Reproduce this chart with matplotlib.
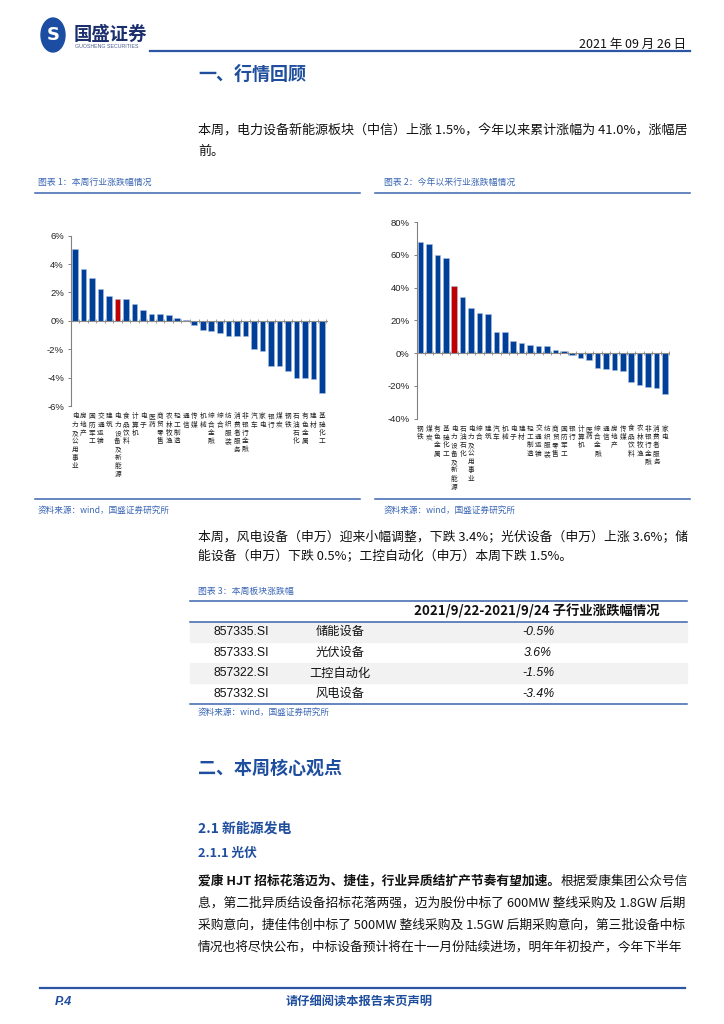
import numpy as np
import matplotlib
matplotlib.use("Agg")
import matplotlib.pyplot as plt
from matplotlib.lines import Line2D
from matplotlib.patches import Rectangle, Circle

plt.rcParams['font.family'] = ['Noto Sans CJK SC', 'DejaVu Sans']

# 本周行业涨跌幅 (%)
week_labels = ['电力及公用事业', '房地产', '国防军工', '交通运输', '建筑', '电力设备及新能源',
               '食品饮料', '计算机', '电子', '医药', '商贸零售', '农林牧渔', '轻工制造', '通信',
               '传媒', '机械', '综合金融', '综合', '纺织服装', '消费者服务', '非银行金融', '汽车',
               '家电', '银行', '煤炭', '钢铁', '石油石化', '有色金属', '建材', '基础化工']
week_values = [5.04, 3.67, 3.04, 2.24, 1.72, 1.55, 1.56, 1.22, 0.75, 0.49, 0.47, 0.42, 0.19, 0.09,
               -0.26, -0.66, -0.73, -0.87, -1.06, -1.06, -1.08, -1.95, -2.12, -3.18, -3.18,
               -3.50, -4.00, -4.05, -4.12, -5.06]

# 今年以来行业涨跌幅 (%)
ytd_labels = ['钢铁', '煤炭', '有色金属', '基础化工', '电力设备及新能源', '石油石化', '电力及公用事业',
              '综合', '建筑', '汽车', '机械', '电子', '建材', '轻工制造', '交通运输', '纺织服装',
              '商贸零售', '国防军工', '银行', '计算机', '医药', '综合金融', '通信', '房地产', '传媒',
              '食品饮料', '农林牧渔', '非银行金融', '消费者服务', '家电']
ytd_values = [67.7, 66.7, 59.8, 57.9, 41.0, 34.6, 27.6, 24.6, 24.2, 13.0, 12.8, 7.3, 6.3, 4.9,
              4.5, 4.1, 2.0, 1.0, -1.4, -3.0, -4.3, -9.1, -10.0, -10.6, -11.0, -17.7, -19.7,
              -20.7, -21.5, -25.2]

highlight = '电力设备及新能源'

# 本周板块涨跌幅
table_codes = ['857335.SI', '857333.SI', '857322.SI', '857332.SI']
table_names = ['储能设备', '光伏设备', '工控自动化', '风电设备']
table_changes = ['-0.5%', '3.6%', '-1.5%', '-3.4%']

W, H = 724, 1024
BLUE = '#003f98'
RED = '#c00000'
HEAD = '#1f4e9f'
CAP = '#3a66b5'
RULE = '#3d65ae'
CJK = ['Noto Sans CJK SC', 'DejaVu Sans']
LAT = ['Liberation Sans', 'Noto Sans CJK SC']

fig = plt.figure(figsize=(W / 100, H / 100), dpi=100)
fig.patch.set_facecolor('white')


def fx(x):
    return x / W


def fy(y):
    return 1 - y / H


def txt(x, y, s, **kw):
    kw.setdefault('va', 'center')
    return fig.text(fx(x), fy(y), s, **kw)


def hline(x0, x1, y, color=RULE, lw=1.1):
    fig.add_artist(Line2D([fx(x0), fx(x1)], [fy(y), fy(y)], transform=fig.transFigure,
                          color=color, lw=lw))


def bar_chart(rect, labels, values, ylim, step, xlim):
    left, top, right, bottom = rect
    ax = fig.add_axes([fx(left), fy(bottom), fx(right - left), (bottom - top) / H])
    ax.patch.set_alpha(0)
    x = np.arange(len(values))
    colors = [RED if l == highlight else BLUE for l in labels]
    ax.bar(x, values, width=0.66, color=colors, edgecolor='#a9bde0', linewidth=0.4, zorder=2)
    ax.axhline(0, color='#8c8c8c', lw=0.8, zorder=3)
    ax.set_xlim(*xlim)
    ax.set_ylim(*ylim)
    ax.set_yticks(np.arange(ylim[0], ylim[1] + step / 2, step))
    ax.set_yticklabels(['%d%%' % v for v in ax.get_yticks()], family=LAT, fontsize=6.8,
                       color='#222222')
    ax.tick_params(axis='y', length=2.5, width=0.7, color='#808080', pad=2.5)
    ax.set_xticks(x)
    ax.set_xticklabels(['\n'.join(l) for l in labels], fontsize=4.8, linespacing=1.05,
                       va='top', color='#222222')
    ax.tick_params(axis='x', length=0, pad=4.5)
    for s in ['top', 'right', 'bottom']:
        ax.spines[s].set_visible(False)
    ax.spines['left'].set_color('#808080')
    ax.spines['left'].set_linewidth(0.8)
    zero = (0 - ylim[0]) / (ylim[1] - ylim[0])
    sec = ax.secondary_xaxis(zero)
    sec.set_xticks(np.arange(-0.5, len(values), 1.0))
    sec.tick_params(length=2.5, width=0.6, color='#8c8c8c', direction='inout', labelbottom=False,
                    labeltop=False)
    sec.spines['bottom'].set_visible(False)
    sec.spines['top'].set_visible(False)
    return ax


# header
fig.add_artist(Circle((fx(53), fy(35)), 12 / W, transform=fig.transFigure,
                      color='#1b4ea3', zorder=3))
txt(53, 35.5, 'S', fontsize=13, color='white', fontweight='bold', ha='center',
    family=['DejaVu Sans'], zorder=4)
txt(74, 34, '国盛证券', fontsize=13.2, fontweight='bold', color='#1b2f6e')
txt(75, 47, 'GUOSHENG SECURITIES', fontsize=3.8, color='#4b5f8f', family=LAT)
txt(686, 44, '2021 年 09 月 26 日', fontsize=9, ha='right', color='#111111')
hline(150, 690, 51, color='#2c55a2', lw=1.6)

txt(198, 74, '一、行情回顾', fontsize=13, fontweight='bold', color=HEAD)
txt(198, 131, '本周，电力设备新能源板块（中信）上涨 1.5%，今年以来累计涨幅为 41.0%，涨幅居',
    fontsize=9.4, color='#111111')
txt(198, 151, '前。', fontsize=9.4, color='#111111')

# chart captions
txt(38, 182, '图表 1：本周行业涨跌幅情况', fontsize=6.4, color=CAP, style='italic')
txt(384, 182, '图表 2：今年以来行业涨跌幅情况', fontsize=6.4, color=CAP, style='italic')
hline(35, 360, 193)
hline(375, 690, 193)

bar_chart((71, 235.7, 328, 406), week_labels, week_values, (-6, 6), 2, (-0.47, 29.7))
bar_chart((416.7, 222.3, 670, 418.5), ytd_labels, ytd_values, (-40, 80), 20, (-0.45, 29.6))

hline(35, 360, 499)
hline(375, 690, 499)
txt(38, 510, '资料来源：wind，国盛证券研究所', fontsize=6.2, color=CAP, style='italic')
txt(384, 510, '资料来源：wind，国盛证券研究所', fontsize=6.2, color=CAP, style='italic')

txt(198, 537, '本周，风电设备（申万）迎来小幅调整，下跌 3.4%；光伏设备（申万）上涨 3.6%；储',
    fontsize=9.25, color='#111111')
txt(198, 557, '能设备（申万）下跌 0.5%；工控自动化（申万）本周下跌 1.5%。', fontsize=9.25,
    color='#111111')

# table
txt(198, 591, '图表 3：本周板块涨跌幅', fontsize=6.4, color=CAP, style='italic')
row_top = [621.5, 642.2, 662.8, 683.4]
row_h = 20.6
for i, y0 in enumerate(row_top):
    if i % 2 == 0:
        fig.add_artist(Rectangle((fx(190), fy(y0 + row_h)), fx(687 - 190), row_h / H,
                                 transform=fig.transFigure, color='#f2f2f2', zorder=0))
    yc = y0 + row_h / 2
    txt(241, yc, table_codes[i], fontsize=8.8, ha='center', family=LAT, color='#111111')
    txt(340, yc, table_names[i], fontsize=8.8, ha='center', color='#111111')
    txt(538, yc, table_changes[i], fontsize=8.8, ha='center', family=LAT, style='italic',
        color='#111111')
hline(190, 687, 600.5, lw=1.1)
txt(537, 611, '2021/9/22-2021/9/24 子行业涨跌幅情况', fontsize=9.6, ha='center',
    fontweight='bold', color='#111111')
hline(190, 687, 621.5, lw=1.1)
hline(190, 687, 704, lw=1.1)
txt(198, 712, '资料来源：wind，国盛证券研究所', fontsize=6.2, color=CAP, style='italic')

# section 2
txt(198, 768, '二、本周核心观点', fontsize=13, fontweight='bold', color=HEAD)
txt(198, 829, '2.1 新能源发电', fontsize=10, fontweight='bold', color=HEAD)
txt(198, 853, '2.1.1 光伏', fontsize=9.2, fontweight='bold', color=HEAD)

renderer = fig.canvas.get_renderer()
lead = txt(198, 881, '爱康 HJT 招标花落迈为、捷佳，行业异质结扩产节奏有望加速。', fontsize=9.2,
           fontweight='bold', color='#111111')
bb = lead.get_window_extent(renderer)
fig.text(bb.x1 / W, fy(881), '根据爱康集团公众号信', fontsize=9.2, va='center', color='#111111')
body = ['息，第二批异质结设备招标花落两强，迈为股份中标了 600MW 整线采购及 1.8GW 后期',
        '采购意向，捷佳伟创中标了 500MW 整线采购及 1.5GW 后期采购意向，第三批设备中标',
        '情况也将尽快公布，中标设备预计将在十一月份陆续进场，明年年初投产，今年下半年']
for i, line in enumerate(body):
    txt(198, 903 + 22 * i, line, fontsize=9.2, color='#111111')

# footer
hline(40, 685, 988, color='#2c55a2', lw=1.6)
txt(55, 1002, 'P.4', fontsize=9, fontweight='bold', style='italic', color=HEAD, family=LAT)
txt(359, 1002, '请仔细阅读本报告末页声明', fontsize=8.8, fontweight='bold', ha='center', color=HEAD)

fig.savefig('out.png', dpi=100)
